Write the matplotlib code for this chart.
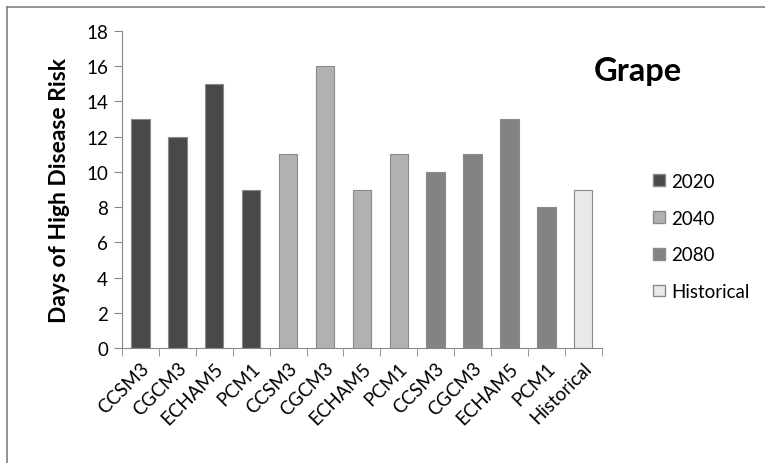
import matplotlib.pyplot as plt
from matplotlib.lines import Line2D
from matplotlib.patches import Patch

plt.rcParams['font.family'] = ['Lato', 'DejaVu Sans']

# Days of high disease risk per climate model and period
models = ['CCSM3', 'CGCM3', 'ECHAM5', 'PCM1']
days_2020 = [13, 12, 15, 9]
days_2040 = [11, 16, 9, 11]
days_2080 = [10, 11, 13, 8]
days_hist = [9]
series_names = ['2020', '2040', '2080', 'Historical']

labels = models * 3 + ['Historical']
values = days_2020 + days_2040 + days_2080 + days_hist
colors = {'2020': '#494949', '2040': '#b1b1b1', '2080': '#838383', 'Historical': '#e9e9e9'}
groups = ['2020'] * 4 + ['2040'] * 4 + ['2080'] * 4 + ['Historical']

fig = plt.figure(figsize=(7.65, 4.64), dpi=100)
ax = fig.add_axes([0.1595, 0.2478, 0.627, 0.6832])

x = list(range(len(values)))
ax.bar(x, values, width=0.5, color=[colors[g] for g in groups],
       edgecolor='#8a8a8a', linewidth=0.8, zorder=2)

ax.set_xlim(-0.5, len(values) - 0.5)
ax.set_ylim(0, 18)
ax.set_yticks(range(0, 19, 2))
ax.tick_params(axis='y', labelsize=13.5, length=6, color='#888888', pad=4)

# category labels centred on bars, tick marks on category boundaries
ax.set_xticks(x)
ax.set_xticklabels(labels, rotation=45, ha='right', rotation_mode='anchor', fontsize=13.5)
ax.tick_params(axis='x', length=0, pad=8)
ax.set_xticks([i - 0.5 for i in range(len(values) + 1)], minor=True)
ax.tick_params(axis='x', which='minor', length=6, color='#888888')

for side in ['top', 'right']:
    ax.spines[side].set_visible(False)
for side in ['left', 'bottom']:
    ax.spines[side].set_color('#888888')

ax.set_ylabel('Days of High Disease Risk', fontsize=16.5, fontweight='bold', labelpad=12)
ax.text(1.167, 0.877, 'Grape', transform=ax.transAxes, fontsize=23.5,
        fontweight='bold', ha='right', va='center')

handles = [Patch(facecolor=colors[s], edgecolor='#8a8a8a', label=s) for s in series_names]
fig.legend(handles=handles, loc='center left', bbox_to_anchor=(0.832, 0.488),
           frameon=False, fontsize=13.5, handlelength=0.6, handleheight=0.6,
           handletextpad=0.35, labelspacing=1.05)

# chart area border (top and left edges)
fig.add_artist(Line2D([0.009, 1.0], [0.983, 0.983], transform=fig.transFigure,
                      color='#808080', linewidth=1.2))
fig.add_artist(Line2D([0.009, 0.009], [0.983, 0.0], transform=fig.transFigure,
                      color='#808080', linewidth=1.2))

fig.savefig('out.png', dpi=100)
